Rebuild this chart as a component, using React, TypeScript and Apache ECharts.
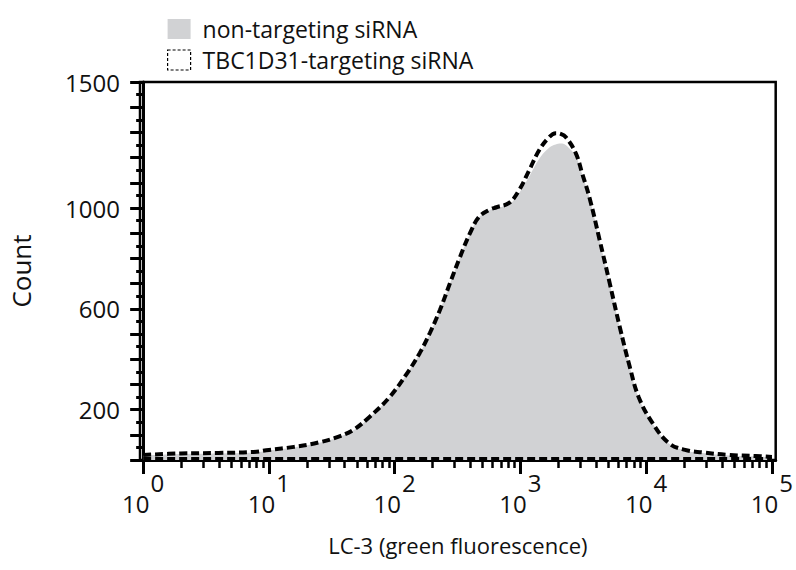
import React, { useEffect, useRef } from "react";
import * as echarts from "echarts";

// log10 of LC-3 green fluorescence intensity (x positions of the traced histogram)
const logFluorescence = [
  0, 0.3, 0.6, 0.88, 1.0, 1.2, 1.4, 1.55, 1.67, 1.8, 1.96, 2.1, 2.2, 2.28, 2.36, 2.44,
  2.52, 2.6, 2.67, 2.75, 2.81, 2.91, 2.99, 3.07, 3.15, 3.23, 3.28, 3.32, 3.36, 3.44, 3.49,
  3.55, 3.63, 3.71, 3.79, 3.87, 3.94, 4.05, 4.18, 4.31, 4.45, 4.66, 4.87, 5.0,
];
const nonTargetingCounts = [
  18, 24, 26, 30, 38, 50, 68, 90, 117, 169, 248, 343, 423, 502, 593, 700,
  804, 899, 962, 990, 1000, 1015, 1060, 1125, 1195, 1240, 1252, 1256, 1250, 1205, 1135,
  1038, 871, 700, 526, 367, 248, 145, 65, 38, 28, 18, 14, 10,
];
const tbc1d31Counts = [
  20, 26, 28, 32, 40, 52, 70, 92, 119, 171, 250, 345, 425, 504, 595, 702,
  806, 901, 964, 992, 1003, 1020, 1071, 1150, 1230, 1282, 1297, 1294, 1282, 1218, 1139,
  1040, 873, 702, 528, 369, 250, 147, 67, 40, 30, 20, 16, 12,
];
const baselineCount = 3;

const seriesNames = ["non-targeting siRNA", "TBC1D31-targeting siRNA"];
const majorDecades = [0, 1, 2, 3, 4, 5];
const minorMultipliers = [2, 3, 4, 5, 6, 7, 8, 9];
const yLabelValues = [200, 600, 1000, 1500];
const xTitle = "LC-3 (green fluorescence)";
const yTitle = "Count";

const FONT = "Open Sans";

export default function App() {
  const ref = useRef<HTMLDivElement>(null);
  useEffect(() => {
    document.body.style.margin = "0";
    const chart = echarts.init(ref.current!, undefined, { renderer: "svg" });
    const minorTicks: number[] = [];
    majorDecades.slice(0, -1).forEach((d) =>
      minorMultipliers.forEach((m) => minorTicks.push(d + Math.log10(m)))
    );
    const xMin = -0.025;
    const xMax = 5.03;
    const grayData = logFluorescence.map((x, i) => [x, nonTargetingCounts[i]]);
    const dashData = logFluorescence.map((x, i) => [x, tbc1d31Counts[i]]);
    const dashStyle = { color: "#000", width: 4, type: [8, 4] as number[] };
    chart.setOption({
      animation: false,
      textStyle: { fontFamily: FONT },
      legend: {
        orient: "vertical",
        left: 162,
        top: 11,
        itemWidth: 23,
        itemHeight: 20,
        itemGap: 5,
        textStyle: {
          fontSize: 23,
          lineHeight: 26,
          color: "#111",
          fontFamily: FONT,
          padding: [0, 0, 0, 7],
        },
        data: [
          { name: seriesNames[0], icon: "rect", itemStyle: { color: "#d1d2d4", borderWidth: 0 } },
          {
            name: seriesNames[1],
            icon: "rect",
            itemStyle: { color: "#fff", borderColor: "#000", borderWidth: 1.2, borderType: [3, 2] },
          },
        ],
      },
      grid: {
        left: 139,
        right: 19,
        top: 82,
        bottom: 110,
        show: true,
        borderColor: "#000",
        borderWidth: 2.5,
      },
      xAxis: [
        {
          type: "value",
          min: xMin,
          max: xMax,
          name: xTitle,
          nameLocation: "middle",
          nameGap: 74,
          nameTextStyle: { fontSize: 22, color: "#111", fontFamily: FONT },
          axisLine: { show: true, onZero: false, lineStyle: { color: "#000", width: 3 } },
          axisTick: {
            show: true,
            customValues: majorDecades,
            length: 14,
            lineStyle: { color: "#000", width: 3 },
          },
          splitLine: { show: false },
          axisLabel: {
            customValues: majorDecades,
            margin: 31,
            formatter: (v: number) => `{b|10}{s|${Math.round(v)}}`,
            rich: {
              b: { fontSize: 24, lineHeight: 24, color: "#111", fontFamily: FONT, verticalAlign: "bottom" },
              s: {
                fontSize: 24,
                lineHeight: 24,
                color: "#111",
                fontFamily: FONT,
                verticalAlign: "bottom",
                padding: [0, 0, 21, 1],
              },
            },
          },
        },
        {
          type: "value",
          min: xMin,
          max: xMax,
          position: "bottom",
          axisLine: { show: false, onZero: false },
          axisTick: {
            show: true,
            customValues: minorTicks,
            length: 8,
            lineStyle: { color: "#000", width: 2.5 },
          },
          axisLabel: { show: false },
          splitLine: { show: false },
        },
      ],
      yAxis: {
        type: "value",
        min: 0,
        max: 1500,
        interval: 100,
        name: yTitle,
        nameLocation: "middle",
        nameGap: 106,
        nameTextStyle: { fontSize: 26, color: "#111", fontFamily: FONT },
        axisLine: { show: true, lineStyle: { color: "#000", width: 3 } },
        axisTick: { show: true, length: 13, lineStyle: { color: "#000", width: 3 } },
        minorTick: { show: true, splitNumber: 2, length: 7, lineStyle: { color: "#000", width: 3 } },
        splitLine: { show: false },
        axisLabel: {
          margin: 20,
          fontSize: 24,
          color: "#111",
          fontFamily: FONT,
          formatter: (v: number) => (yLabelValues.includes(v) ? String(v) : ""),
        },
      },
      series: [
        {
          name: seriesNames[0],
          type: "line",
          data: grayData,
          smooth: 0.4,
          showSymbol: false,
          lineStyle: { width: 0, color: "#d1d2d4" },
          itemStyle: { color: "#d1d2d4" },
          areaStyle: { color: "#d1d2d4", opacity: 1 },
          z: 1,
        },
        {
          name: seriesNames[1],
          type: "line",
          data: dashData,
          smooth: 0.4,
          showSymbol: false,
          lineStyle: dashStyle,
          itemStyle: { color: "#000" },
          z: 3,
          markLine: {
            silent: true,
            symbol: "none",
            label: { show: false },
            lineStyle: dashStyle,
            data: [
              [
                { coord: [logFluorescence[0], baselineCount] },
                { coord: [logFluorescence[logFluorescence.length - 1], baselineCount] },
              ],
            ],
          },
        },
      ],
    });
    return () => chart.dispose();
  }, []);
  return (
    <div
      ref={ref}
      style={{ position: "absolute", left: 0, top: 0, width: 796, height: 570, background: "#fff" }}
    />
  );
}
